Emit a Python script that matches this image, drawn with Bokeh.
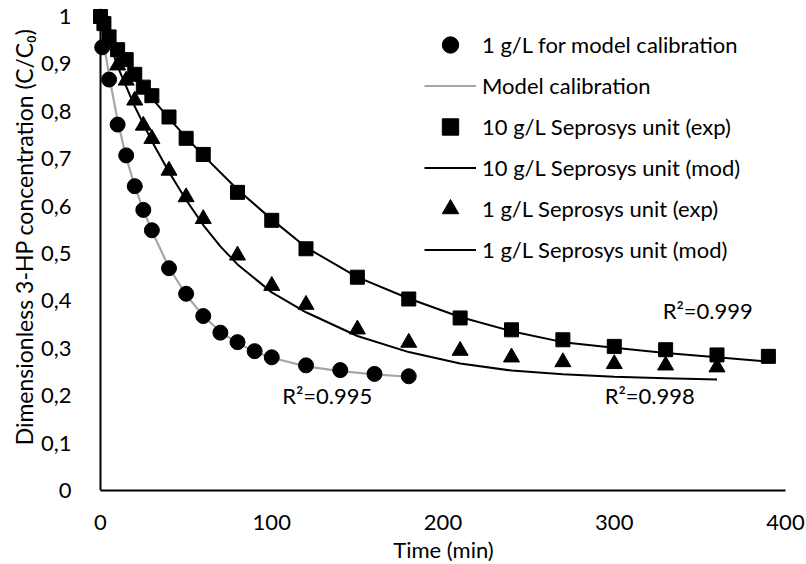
from bokeh.plotting import figure
from bokeh.models import Legend, LegendItem, Label, FixedTicker, Range1d, Span, Title
from bokeh.embed import file_html
from bokeh.resources import INLINE

# ---------------- data ----------------
# 1 g/L for model calibration (circles)
cal_t = [1, 5, 10, 15, 20, 25, 30, 40, 50, 60, 70, 80, 90, 100, 120, 140, 160, 180]
cal_c = [0.935, 0.867, 0.772, 0.707, 0.642, 0.592, 0.549, 0.469, 0.415, 0.368,
         0.333, 0.313, 0.294, 0.281, 0.264, 0.254, 0.246, 0.241]

# Model calibration (grey curve)
mcal_t = [0, 2.5, 5, 10, 15, 20, 25, 30, 40, 50, 60, 70, 80, 90, 100, 120, 140, 160, 180]
mcal_c = [1.0, 0.93, 0.876, 0.78, 0.703, 0.642, 0.592, 0.548, 0.47, 0.413, 0.368,
          0.335, 0.311, 0.293, 0.28, 0.262, 0.252, 0.245, 0.24]

# 10 g/L Seprosys unit (exp) - squares
sq_t = [0, 2, 5, 10, 15, 20, 25, 30, 40, 50, 60, 80, 100, 120, 150, 180, 210, 240,
        270, 300, 330, 360, 390]
sq_c = [1.0, 0.985, 0.957, 0.93, 0.909, 0.878, 0.851, 0.833, 0.788, 0.743, 0.709,
        0.629, 0.570, 0.510, 0.450, 0.404, 0.364, 0.339, 0.318, 0.304, 0.297, 0.286, 0.283]

# 10 g/L Seprosys unit (mod)
m10_t = [0, 10, 20, 30, 40, 50, 60, 80, 100, 120, 150, 180, 210, 240, 270, 300, 330, 360, 390]
m10_c = [1.0, 0.935, 0.876, 0.828, 0.785, 0.745, 0.707, 0.635, 0.572, 0.513, 0.45,
         0.405, 0.366, 0.336, 0.313, 0.301, 0.29, 0.281, 0.272]

# 1 g/L Seprosys unit (exp) - triangles
tr_t = [10, 15, 20, 25, 30, 40, 50, 60, 80, 100, 120, 150, 180, 210, 240, 270, 300, 330, 360]
tr_c = [0.897, 0.865, 0.823, 0.77, 0.742, 0.675, 0.619, 0.573, 0.496, 0.432, 0.392,
        0.340, 0.312, 0.295, 0.281, 0.271, 0.267, 0.264, 0.260]

# 1 g/L Seprosys unit (mod)
m1_t = [0, 10, 20, 30, 40, 50, 60, 70, 80, 100, 120, 150, 180, 210, 240, 270, 300, 330, 360]
m1_c = [1.0, 0.895, 0.81, 0.737, 0.672, 0.613, 0.56, 0.515, 0.477, 0.418, 0.376,
        0.326, 0.292, 0.268, 0.253, 0.245, 0.240, 0.237, 0.234]

x_ticks = [0, 100, 200, 300, 400]
y_ticks = [0, 0.1, 0.2, 0.3, 0.4, 0.5, 0.6, 0.7, 0.8, 0.9, 1]
y_tick_labels = ["0", "0,1", "0,2", "0,3", "0,4", "0,5", "0,6", "0,7", "0,8", "0,9", "1"]

series_labels = ["1 g/L for model calibration", "Model calibration",
                 "10 g/L Seprosys unit (exp)", "10 g/L Seprosys unit (mod)",
                 "1 g/L Seprosys unit (exp)", "1 g/L Seprosys unit (mod)"]
r2_texts = ["R\u00b2=0.995", "R\u00b2=0.999", "R\u00b2=0.998"]
x_title = "Time (min)"
y_title = "Dimensionless 3-HP concentration (C/C\u2080)"

# ---------------- figure ----------------
FONT = "Lato"
FS = "22px"
PXX = 1.7125   # px per minute
PXY = 474.0    # px per unit

p = figure(frame_width=706, frame_height=482, output_backend="svg", toolbar_location=None,
           title=None,
           x_range=Range1d(-10 / PXX, 696 / PXX), y_range=Range1d(0, 482 / PXY),
           min_border_left=90, min_border_right=10, min_border_top=8, min_border_bottom=74)
p.outline_line_color = None
p.grid.visible = False
p.background_fill_color = "white"
p.border_fill_color = "white"

for ax in (p.xaxis, p.yaxis):
    ax.major_tick_line_color = None
    ax.minor_tick_line_color = None
    ax.major_label_text_font = FONT
    ax.major_label_text_font_size = FS
    ax.major_label_text_color = "black"

p.xaxis.ticker = FixedTicker(ticks=x_ticks)
p.xaxis.bounds = (0, 400)
p.xaxis.axis_line_color = "black"
p.xaxis.axis_line_width = 2
p.xaxis.major_label_standoff = 18
p.xaxis.axis_label = x_title
p.xaxis.axis_label_text_font = FONT
p.xaxis.axis_label_text_font_size = FS
p.xaxis.axis_label_text_font_style = "normal"
p.xaxis.axis_label_text_color = "black"
p.xaxis.axis_label_standoff = 3

p.yaxis.ticker = FixedTicker(ticks=y_ticks)
p.yaxis.axis_line_color = None
p.yaxis.major_label_overrides = {t: l for t, l in zip(y_ticks, y_tick_labels)}
p.yaxis.major_label_standoff = 13

# vertical axis line at t = 0
p.add_layout(Span(location=0, dimension="height", line_color="black", line_width=2))

# y-axis title
p.add_layout(Title(text=y_title, align="right", offset=20, standoff=0, text_font=FONT,
                   text_font_size="23px", text_font_style="normal", text_color="black"), "left")

# lines first
r_mcal = p.line(mcal_t, mcal_c, line_color="#a6a6a6", line_width=2.2)
r_m10 = p.line(m10_t, m10_c, line_color="black", line_width=2)
r_m1 = p.line(m1_t, m1_c, line_color="black", line_width=2)
# markers
r_cal = p.scatter(cal_t, cal_c, marker="circle", size=15, fill_color="black", line_color="black")
r_sq = p.scatter(sq_t, sq_c, marker="square", size=14, fill_color="black", line_color="black")
r_tr = p.scatter(tr_t, tr_c, marker="triangle", size=16, fill_color="black", line_color="black")

legend = Legend(items=[
    LegendItem(label=series_labels[0], renderers=[r_cal]),
    LegendItem(label=series_labels[1], renderers=[r_mcal]),
    LegendItem(label=series_labels[2], renderers=[r_sq]),
    LegendItem(label=series_labels[3], renderers=[r_m10]),
    LegendItem(label=series_labels[4], renderers=[r_tr]),
    LegendItem(label=series_labels[5], renderers=[r_m1]),
], location=(334, 220), orientation="vertical",
    glyph_width=52, glyph_height=41, label_height=41, spacing=0, padding=0, margin=0,
    label_standoff=6, border_line_alpha=0, background_fill_alpha=0,
    label_text_font=FONT, label_text_font_size=FS, label_text_color="black")
p.add_layout(legend)

# R² annotations
for (x, y), t in zip([(132.4, 0.2), (354.6, 0.38), (320.7, 0.2)], r2_texts):
    p.add_layout(Label(x=x, y=y, text=t, text_align="center", text_baseline="middle",
                       text_font=FONT, text_font_size=FS, text_color="black"))

open("out.html", "w").write(file_html(p, INLINE))
